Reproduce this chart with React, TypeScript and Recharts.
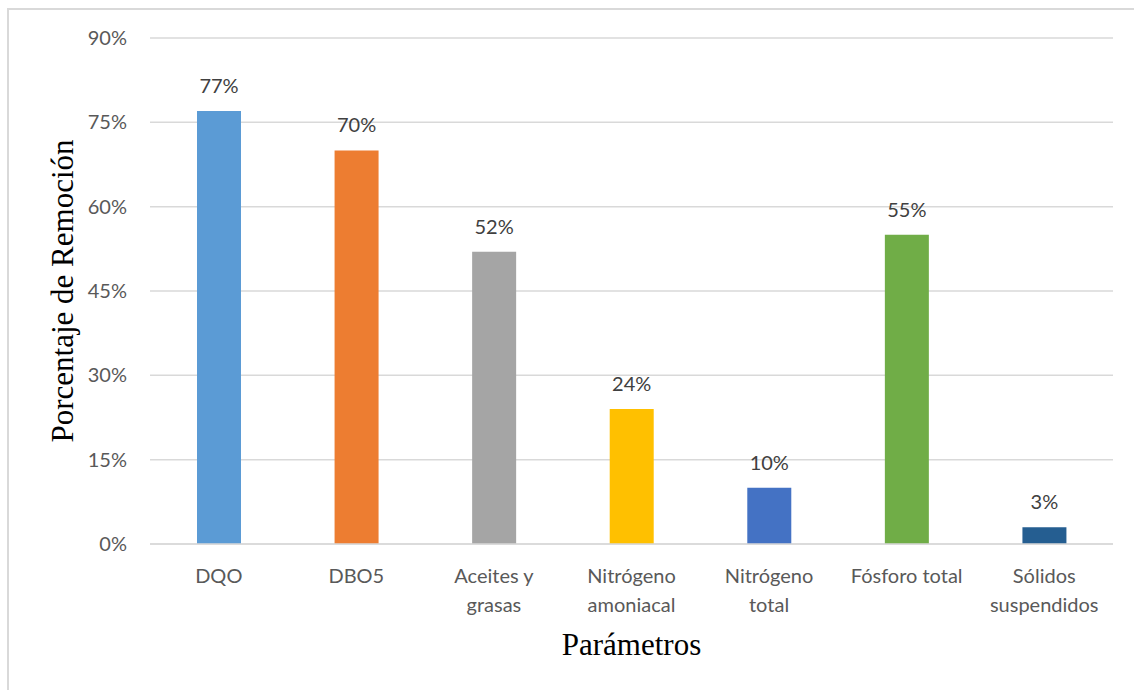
import { BarChart, Bar, XAxis, YAxis, CartesianGrid, Cell, LabelList, Label } from "recharts";

// Parámetros de calidad y su porcentaje de remoción
const categories = [
  "DQO",
  "DBO5",
  "Aceites y\ngrasas",
  "Nitrógeno\namoniacal",
  "Nitrógeno\ntotal",
  "Fósforo total",
  "Sólidos\nsuspendidos",
];
const removal = [77, 70, 52, 24, 10, 55, 3];
const barColors = ["#5B9BD5", "#ED7D31", "#A5A5A5", "#FFC000", "#4472C4", "#70AD47", "#255E91"];
const yTicks = [0, 15, 30, 45, 60, 75, 90];

const data = categories.map((name, i) => ({ name, value: removal[i] }));

const SANS = "Lato, 'Open Sans', sans-serif";
const SERIF = "'Liberation Serif', 'DejaVu Serif', serif";
const GRID = "#d9d9d9";

// Etiqueta de categoría en varias líneas (separadas por \n)
function CategoryTick({ x, y, payload }: any) {
  const lines = String(payload.value).split("\n");
  return (
    <text x={x} y={y} textAnchor="middle" fill="#595959" fontFamily={SANS} fontSize={20}>
      {lines.map((l, i) => (
        <tspan key={i} x={x} y={y + 39 + i * 28.5}>
          {l}
        </tspan>
      ))}
    </text>
  );
}

export default function App() {
  return (
    <div style={{ position: "fixed", left: 0, top: 0, width: 1134, height: 690, background: "#fff" }}>
      <div
        style={{
          position: "absolute",
          left: 7,
          top: 8,
          right: 0,
          bottom: 0,
          borderLeft: `2px solid ${GRID}`,
          borderTop: `2px solid ${GRID}`,
        }}
      />
      <div style={{ position: "absolute", left: 0, top: 0 }}>
        <BarChart
          width={1134}
          height={690}
          data={data}
          margin={{ top: 38, right: 21, bottom: 46, left: 0 }}
        >
          <CartesianGrid stroke={GRID} strokeWidth={1.5} vertical={false} />
          <XAxis
            dataKey="name"
            interval={0}
            height={100}
            tickSize={0}
            tickMargin={0}
            axisLine={{ stroke: GRID, strokeWidth: 1.5 }}
            tickLine={false}
            tick={<CategoryTick />}
          >
            <Label
              content={({ viewBox }: any) => (
                <text
                  x={viewBox.x + viewBox.width / 2}
                  y={viewBox.y + 111}
                  textAnchor="middle"
                  fill="#000"
                  fontFamily={SERIF}
                  fontSize={31}
                >
                  Parámetros
                </text>
              )}
            />
          </XAxis>
          <YAxis
            width={150}
            domain={[0, 90]}
            ticks={yTicks}
            interval={0}
            tickSize={0}
            tickMargin={23}
            axisLine={false}
            tickLine={false}
            tickFormatter={(v: number) => `${v}%`}
            tick={{ fill: "#595959", fontFamily: SANS, fontSize: 20 }}
          >
            <Label
              content={({ viewBox }: any) => {
                const cy = viewBox.y + viewBox.height / 2;
                return (
                  <text
                    x={0}
                    y={0}
                    transform={`translate(73, ${cy}) rotate(-90)`}
                    textAnchor="middle"
                    fill="#000"
                    fontFamily={SERIF}
                    fontSize={31}
                  >
                    Porcentaje de Remoción
                  </text>
                );
              }}
            />
          </YAxis>
          <Bar dataKey="value" barSize={44} isAnimationActive={false}>
            {data.map((d, i) => (
              <Cell key={d.name} fill={barColors[i]} />
            ))}
            <LabelList
              dataKey="value"
              position="top"
              offset={18}
              formatter={(v: any) => `${v}%`}
              fill="#404040"
              fontFamily={SANS}
              fontSize={20}
            />
          </Bar>
        </BarChart>
      </div>
    </div>
  );
}
